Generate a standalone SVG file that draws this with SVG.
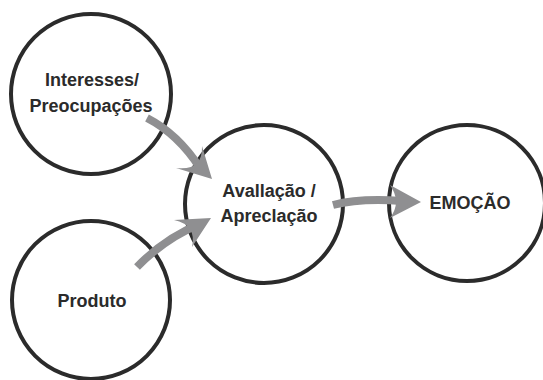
<svg xmlns="http://www.w3.org/2000/svg" width="543" height="380" viewBox="0 0 543 380">
<style>
.node circle{fill:#ffffff;stroke:#2b2b2b;stroke-width:4}
.node text{font-family:"Liberation Sans",Arial,sans-serif;font-weight:bold;font-size:18px;fill:#2b2b2b;text-anchor:middle}
.conn path.line{fill:none;stroke:#8f8f91;stroke-width:8;stroke-linecap:butt}
.conn path.head{fill:#8f8f91;stroke:none}
</style>
<rect width="543" height="380" fill="#ffffff"/>
<g id="node-interesses" class="node">
<circle cx="91" cy="94" r="80"/>
<text x="92" y="86">Interesses/</text>
<text x="91" y="112">Preocupações</text>
</g>
<g id="node-produto" class="node">
<circle cx="91" cy="300" r="79"/>
<text x="92" y="307">Produto</text>
</g>
<g id="node-avaliacao" class="node">
<circle cx="264" cy="204" r="79"/>
<text x="269" y="197">Avallação /</text>
<text x="269" y="222">Apreclação</text>
</g>
<g id="node-emocao" class="node">
<circle cx="467" cy="203" r="78"/>
<text x="470" y="209">EMOÇÃO</text>
</g>
<g id="connectors" class="conn">
<path class="line" d="M147,118 Q178,134 200,168"/>
<path class="head" d="M212,179 L202,146 Q203,171 176,168 Z"/>
<path class="line" d="M137,267 Q165,238 202,223"/>
<path class="head" d="M211,218 L174,220 Q197,225 192,247 Z"/>
<path class="line" d="M333,205 Q360,198 402,201"/>
<path class="head" d="M421,202 L390,185 Q402,202 390,218 Z"/>
</g>
</svg>
